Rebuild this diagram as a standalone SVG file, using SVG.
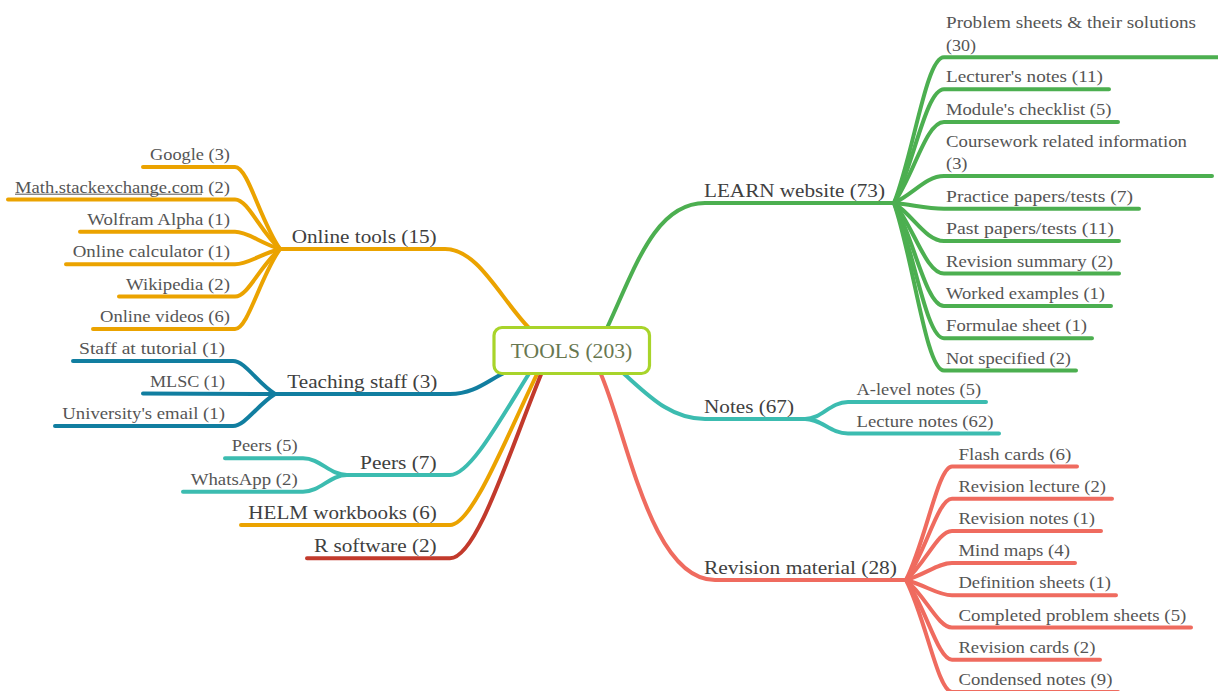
<svg xmlns="http://www.w3.org/2000/svg" width="1218" height="691" viewBox="0 0 1218 691">
<style>
.c{fill:none;stroke-width:4;stroke-linecap:round;stroke-linejoin:round}
.gr{stroke:#4caf50}.or{stroke:#eba300}.bl{stroke:#117ea0}.te{stroke:#3cbcb0}.co{stroke:#ef6b5f}.rd{stroke:#c23a2c}
text{font-family:"Liberation Serif","DejaVu Serif",serif}
.l{font-size:16.5px;fill:#555555}
.m{font-size:18px;fill:#404040}
.ctr{font-size:20px;fill:#687750}
</style>
<rect width="1218" height="691" fill="#ffffff"/>
<g id="connectors">
<path class="c or" d="M280,249 L445,249 C478,249 500,298 529,328"/>
<path class="c bl" d="M275,394 L450,394 C475,394 488,380 506,372"/>
<path class="c te" d="M347,475 L450,475 C470,475 500,420 530,372"/>
<path class="c or" d="M241,525 L450,525 C472,525 505,440 538,372"/>
<path class="c rd" d="M307,558.3 L450,558.3 C477,558 510,450 542,372"/>
<path class="c gr" d="M607,328 C635,268 655,203 705,203 L894,203"/>
<path class="c te" d="M622,372 C648,395 670,419 705,419 L805,419"/>
<path class="c co" d="M600,372 C627,432 650,580 715,580 L906,580"/>
<path class="c or" d="M280,249 C260,220.3 248,167 235,167 L143,167"/>
<path class="c or" d="M280,249 C260,231.6 248,199.4 235,199.4 L8,199.4"/>
<path class="c or" d="M280,249 C260,243 248,231.8 235,231.8 L80,231.8"/>
<path class="c or" d="M280,249 C260,254.3 248,264.2 235,264.2 L66,264.2"/>
<path class="c or" d="M280,249 C260,265.7 248,296.6 235,296.6 L119,296.6"/>
<path class="c or" d="M280,249 C260,277 248,329 235,329 L93,329"/>
<path class="c bl" d="M275,394 C257,382.5 245,361 233,361 L73,361"/>
<path class="c bl" d="M275,394 L143,393.5"/>
<path class="c bl" d="M275,394 C257,405.2 245,426 233,426 L55,426"/>
<path class="c te" d="M347,475 C330,475 320,458.3 303,458.3 L225,458.3"/>
<path class="c te" d="M347,475 C330,475 320,491.7 303,491.7 L183,491.7"/>
<path class="c gr" d="M894,203 C914,152 926,57.3 944,57.3 L1222,57.3"/>
<path class="c gr" d="M894,203 C914,163.2 926,89.3 944,89.3 L1109,89.3"/>
<path class="c gr" d="M894,203 C914,174.7 926,122 944,122 L1118,122"/>
<path class="c gr" d="M894,203 C914,193.5 926,176 944,176 L1212,176"/>
<path class="c gr" d="M894,203 C914,205 926,208.7 944,208.7 L1139,208.7"/>
<path class="c gr" d="M894,203 C914,216.3 926,241 944,241 L1119,241"/>
<path class="c gr" d="M894,203 C914,227.7 926,273.5 944,273.5 L1119,273.5"/>
<path class="c gr" d="M894,203 C914,239 926,306 944,306 L1111,306"/>
<path class="c gr" d="M894,203 C914,250.4 926,338.3 944,338.3 L1092,338.3"/>
<path class="c gr" d="M894,203 C914,261.6 926,370.5 944,370.5 L1076,370.5"/>
<path class="c te" d="M805,419 C822,419 830,402 848,402 L986,402"/>
<path class="c te" d="M805,419 C822,419 830,433.5 848,433.5 L999,433.5"/>
<path class="c co" d="M906,580 C926,540.3 938,466.5 952,466.5 L1077,466.5"/>
<path class="c co" d="M906,580 C926,551.5 938,498.7 952,498.7 L1112,498.7"/>
<path class="c co" d="M906,580 C926,562.8 938,530.9 952,530.9 L1101,530.9"/>
<path class="c co" d="M906,580 C926,574.1 938,563.1 952,563.1 L1075,563.1"/>
<path class="c co" d="M906,580 C926,585.4 938,595.3 952,595.3 L1116,595.3"/>
<path class="c co" d="M906,580 C926,596.6 938,627.5 952,627.5 L1191,627.5"/>
<path class="c co" d="M906,580 C926,607.9 938,659.7 952,659.7 L1100,659.7"/>
<path class="c co" d="M906,580 C926,619.2 938,691.9 952,691.9 L1118,691.9"/>
</g>
<g id="center">
<rect x="494" y="327.5" width="155.5" height="46" rx="8" ry="8" fill="#ffffff" stroke="#a8d42a" stroke-width="3.2"/>
<text class="ctr" x="510.7" y="357.5" textLength="121.6" lengthAdjust="spacingAndGlyphs">TOOLS (203)</text>
</g>
<g id="online-tools"><text class="m" x="291.7" y="242.5" textLength="145" lengthAdjust="spacingAndGlyphs">Online tools (15)</text></g>
<g id="google"><text class="l" x="150" y="160" textLength="80" lengthAdjust="spacingAndGlyphs">Google (3)</text></g>
<g id="math-se"><text class="l" x="15" y="192.5" textLength="215" lengthAdjust="spacingAndGlyphs">Math.stackexchange.com (2)</text><line x1="15" y1="194.2" x2="202" y2="194.2" stroke="#555555" stroke-width="1"/></g>
<g id="wolfram"><text class="l" x="87.3" y="224.8" textLength="142.7" lengthAdjust="spacingAndGlyphs">Wolfram Alpha (1)</text></g>
<g id="online-calc"><text class="l" x="72.7" y="257.2" textLength="157.3" lengthAdjust="spacingAndGlyphs">Online calculator (1)</text></g>
<g id="wikipedia"><text class="l" x="126" y="289.6" textLength="104" lengthAdjust="spacingAndGlyphs">Wikipedia (2)</text></g>
<g id="online-videos"><text class="l" x="100" y="322" textLength="130" lengthAdjust="spacingAndGlyphs">Online videos (6)</text></g>
<g id="teaching-staff"><text class="m" x="287.3" y="387.5" textLength="150" lengthAdjust="spacingAndGlyphs">Teaching staff (3)</text></g>
<g id="staff-tutorial"><text class="l" x="79" y="354" textLength="146" lengthAdjust="spacingAndGlyphs">Staff at tutorial (1)</text></g>
<g id="mlsc"><text class="l" x="150" y="386.5" textLength="75" lengthAdjust="spacingAndGlyphs">MLSC (1)</text></g>
<g id="uni-email"><text class="l" x="62.3" y="419" textLength="162.7" lengthAdjust="spacingAndGlyphs">University's email (1)</text></g>
<g id="peers"><text class="m" x="360" y="468.5" textLength="76.7" lengthAdjust="spacingAndGlyphs">Peers (7)</text></g>
<g id="peers-5"><text class="l" x="231.7" y="451.3" textLength="66" lengthAdjust="spacingAndGlyphs">Peers (5)</text></g>
<g id="whatsapp"><text class="l" x="190.7" y="484.7" textLength="107" lengthAdjust="spacingAndGlyphs">WhatsApp (2)</text></g>
<g id="helm"><text class="m" x="248.3" y="518.5" textLength="188.4" lengthAdjust="spacingAndGlyphs">HELM workbooks (6)</text></g>
<g id="r-software"><text class="m" x="314" y="551.5" textLength="122.7" lengthAdjust="spacingAndGlyphs">R software (2)</text></g>
<g id="learn"><text class="m" x="704" y="196.5" textLength="181" lengthAdjust="spacingAndGlyphs">LEARN website (73)</text></g>
<g id="problem-sheets"><text class="l" x="946" y="28" textLength="250" lengthAdjust="spacingAndGlyphs">Problem sheets &amp; their solutions</text><text class="l" x="946" y="50.5" textLength="30" lengthAdjust="spacingAndGlyphs">(30)</text></g>
<g id="lecturers-notes"><text class="l" x="946" y="82.3" textLength="157" lengthAdjust="spacingAndGlyphs">Lecturer's notes (11)</text></g>
<g id="module-checklist"><text class="l" x="946" y="115" textLength="165.5" lengthAdjust="spacingAndGlyphs">Module's checklist (5)</text></g>
<g id="coursework"><text class="l" x="946" y="146.5" textLength="241" lengthAdjust="spacingAndGlyphs">Coursework related information</text><text class="l" x="946" y="169" textLength="21.5" lengthAdjust="spacingAndGlyphs">(3)</text></g>
<g id="practice"><text class="l" x="946" y="201.7" textLength="187" lengthAdjust="spacingAndGlyphs">Practice papers/tests (7)</text></g>
<g id="past"><text class="l" x="946" y="234" textLength="168" lengthAdjust="spacingAndGlyphs">Past papers/tests (11)</text></g>
<g id="rev-summary"><text class="l" x="946" y="266.5" textLength="167" lengthAdjust="spacingAndGlyphs">Revision summary (2)</text></g>
<g id="worked"><text class="l" x="946" y="299" textLength="159" lengthAdjust="spacingAndGlyphs">Worked examples (1)</text></g>
<g id="formulae"><text class="l" x="946" y="331.3" textLength="141" lengthAdjust="spacingAndGlyphs">Formulae sheet (1)</text></g>
<g id="not-specified"><text class="l" x="946" y="363.5" textLength="125" lengthAdjust="spacingAndGlyphs">Not specified (2)</text></g>
<g id="notes"><text class="m" x="704" y="412.5" textLength="90" lengthAdjust="spacingAndGlyphs">Notes (67)</text></g>
<g id="alevel"><text class="l" x="856.5" y="395" textLength="124.5" lengthAdjust="spacingAndGlyphs">A-level notes (5)</text></g>
<g id="lecture-notes"><text class="l" x="856.5" y="426.5" textLength="137" lengthAdjust="spacingAndGlyphs">Lecture notes (62)</text></g>
<g id="revision-material"><text class="m" x="704" y="573.5" textLength="193" lengthAdjust="spacingAndGlyphs">Revision material (28)</text></g>
<g id="flash"><text class="l" x="958.4" y="459.5" textLength="113" lengthAdjust="spacingAndGlyphs">Flash cards (6)</text></g>
<g id="rev-lecture"><text class="l" x="958.4" y="491.7" textLength="147.6" lengthAdjust="spacingAndGlyphs">Revision lecture (2)</text></g>
<g id="rev-notes"><text class="l" x="958.4" y="523.9" textLength="136.6" lengthAdjust="spacingAndGlyphs">Revision notes (1)</text></g>
<g id="mind-maps"><text class="l" x="958.4" y="556.1" textLength="111.6" lengthAdjust="spacingAndGlyphs">Mind maps (4)</text></g>
<g id="definition"><text class="l" x="958.4" y="588.3" textLength="152.6" lengthAdjust="spacingAndGlyphs">Definition sheets (1)</text></g>
<g id="completed"><text class="l" x="958.4" y="620.5" textLength="228" lengthAdjust="spacingAndGlyphs">Completed problem sheets (5)</text></g>
<g id="rev-cards"><text class="l" x="958.4" y="652.7" textLength="137" lengthAdjust="spacingAndGlyphs">Revision cards (2)</text></g>
<g id="condensed"><text class="l" x="958.4" y="684.9" textLength="154" lengthAdjust="spacingAndGlyphs">Condensed notes (9)</text></g>
</svg>
